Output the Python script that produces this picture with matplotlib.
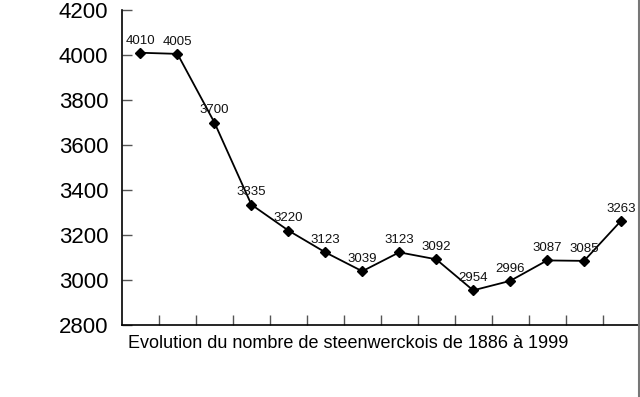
import matplotlib
matplotlib.use("Agg")
import matplotlib.pyplot as plt
from matplotlib.lines import Line2D

plt.rcParams['font.family'] = ['Liberation Sans', 'DejaVu Sans']

values = [4010, 4005, 3700, 3335, 3220, 3123, 3039, 3123, 3092, 2954, 2996, 3087, 3085, 3263]
yticks = [2800, 3000, 3200, 3400, 3600, 3800, 4000, 4200]
caption = "Evolution du nombre de steenwerckois de 1886 à 1999"

fig = plt.figure(figsize=(6.4, 3.97), dpi=100)
ax = fig.add_axes([122/640, 72/397, (639.5-122)/640, (325-10)/397])
x = list(range(len(values)))
ax.plot(x, values, color='black', lw=1.3, marker='D', markersize=5.5, zorder=3)
for xi, v in zip(x, values):
    ax.annotate(str(v), (xi, v), xytext=(0, 4.5), textcoords='offset points',
                ha='center', va='bottom', fontsize=9.5, color='#111111')

ax.set_xlim(-0.5, len(values) - 0.5)
ax.set_ylim(2800, 4200)
ax.set_yticks(yticks)
ax.set_yticklabels([str(t) for t in yticks], fontsize=16)
ax.set_xticks([i + 0.5 for i in range(len(values))])
ax.set_xticklabels([])
ax.tick_params(axis='y', direction='in', length=7, width=1, pad=10, color='#555555')
ax.tick_params(axis='x', direction='in', length=7, width=1, color='#555555')
for s in ['top', 'right']:
    ax.spines[s].set_visible(False)
for s in ['left', 'bottom']:
    ax.spines[s].set_linewidth(1.2)

fig.text(128/640, 1 - 343/397, caption, fontsize=13, ha='left', va='center')
fig.add_artist(Line2D([639/640, 639/640], [0, 1], color='#777777', lw=1.5, transform=fig.transFigure))

fig.savefig("out.png", dpi=100)
